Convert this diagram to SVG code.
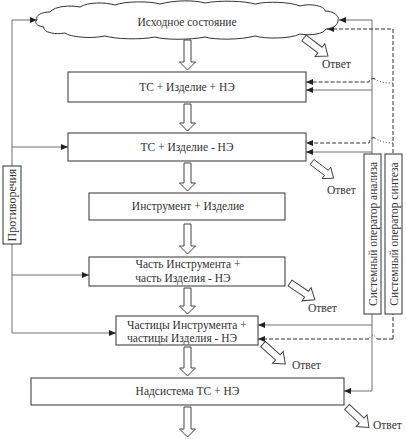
<svg xmlns="http://www.w3.org/2000/svg" width="406" height="439" viewBox="0 0 406 439" font-family="'Liberation Serif', 'Times New Roman', serif">
<style>
text{font-family:"Liberation Serif","Times New Roman",serif;font-size:11.5px;fill:#333}
.box{fill:#fff;stroke:#333;stroke-width:1}
.ln{fill:none;stroke:#707070;stroke-width:1}
.ds{fill:none;stroke:#333;stroke-width:1;stroke-dasharray:4,2}
.dt{fill:none;stroke:#555;stroke-width:1;stroke-dasharray:1,2}
.ha{fill:#fff;stroke:#444;stroke-width:1}
</style>
<defs>
<marker id="ah" markerWidth="7" markerHeight="6" refX="7" refY="3" orient="auto" markerUnits="userSpaceOnUse">
<path d="M0,0 L7,3 L0,6 Z" fill="#222"/>
</marker>
<polygon id="ans" class="ha" points="0,-3.5 20,-3.5 20,-8 30,0 20,8 20,3.5 0,3.5"/>
</defs>

<g id="connectors">
<path class="ln" d="M12,333 L12,20 L37,20" marker-end="url(#ah)"/>
<path class="ln" d="M12,147 L68,147" marker-end="url(#ah)"/>
<path class="ln" d="M12,275 L89,275" marker-end="url(#ah)"/>
<path class="ln" d="M12,333 L116,333" marker-end="url(#ah)"/>
<path class="ln" d="M372,391 L372,20 L339,20" marker-end="url(#ah)"/>
<path class="ln" d="M372,90 L306,90" marker-end="url(#ah)"/>
<path class="ln" d="M372,152 L306,152" marker-end="url(#ah)"/>
<path class="ln" d="M372,325 L258,325" marker-end="url(#ah)"/>
<path class="ln" d="M372,391 L344,391" marker-end="url(#ah)"/>
<path class="ds" d="M393,339 L393,29 L327,29" marker-end="url(#ah)"/>
<path class="dt" d="M393,83 C385,83 378,82 375,79"/>
<path class="ds" d="M375,79 Q371,77 369,82 L306,82" marker-end="url(#ah)"/>
<path class="dt" d="M393,143 C385,143 378,141 375,138"/>
<path class="ds" d="M375,138 Q371,136 369,143 L306,143" marker-end="url(#ah)"/>
<path class="ds" d="M393,339 L377,339"/>
<path class="dt" d="M377,339 Q373,332 369,339"/>
<path class="ds" d="M369,339 L258,339" marker-end="url(#ah)"/>
<g class="ha">
<polygon points="184,40 191,40 191,62 195.5,62 187.5,70 179.5,62 184,62"/>
<polygon points="184,104 191,104 191,123 195.5,123 187.5,131 179.5,123 184,123"/>
<polygon points="184,163 191,163 191,183 195.5,183 187.5,191 179.5,183 184,183"/>
<polygon points="184,224 191,224 191,246 195.5,246 187.5,254 179.5,246 184,246"/>
<polygon points="184,288 191,288 191,306 195.5,306 187.5,314 179.5,306 184,306"/>
<polygon points="184,347 191,347 191,368 195.5,368 187.5,376 179.5,368 184,368"/>
<polygon points="184,407 191,407 191,429 195.5,429 187.5,437 179.5,429 184,429"/>
</g>
<use href="#ans" transform="translate(304,38) rotate(37)"/>
<use href="#ans" transform="translate(312,162) rotate(37) scale(0.9)"/>
<use href="#ans" transform="translate(290,283) rotate(34)"/>
<use href="#ans" transform="translate(263,344) rotate(42)"/>
<use href="#ans" transform="translate(347,407) rotate(43)"/>
</g>

<g id="answers">
<text x="322" y="68">Ответ</text>
<text x="327" y="194">Ответ</text>
<text x="308" y="312">Ответ</text>
<text x="292" y="369">Ответ</text>
<text x="373" y="429">Ответ</text>
</g>

<g id="cloud">
<path class="box" d="M37,20 C35,15 42,12 50,12 C55,6 70,5 80,7 C88,2 105,2 115,5 C125,1 150,1 160,4 C175,0 195,0 205,3 C220,0 245,1 255,4 C268,1 290,2 300,6 C310,3 325,6 325,11 C333,11 340,16 338,20 C338,25 334,28 326,29 C324,34 310,36 300,34 C290,39 265,39 255,36 C240,40 215,40 205,37 C190,40 165,40 155,37 C140,40 115,39 105,36 C90,39 70,37 65,33 C55,35 42,32 44,27 C36,26 34,22 37,20 Z"/>
<text x="187" y="26" text-anchor="middle">Исходное состояние</text>
</g>

<g id="box1">
<rect class="box" x="68" y="72" width="238" height="30"/>
<text x="187" y="91" text-anchor="middle">ТС + Изделие + НЭ</text>
</g>

<g id="box2">
<rect class="box" x="68" y="133" width="238" height="28"/>
<text x="187" y="151" text-anchor="middle">ТС + Изделие - НЭ</text>
</g>

<g id="box3">
<rect class="box" x="89" y="193" width="196" height="27"/>
<text x="188" y="210" text-anchor="middle">Инструмент + Изделие</text>
</g>

<g id="box4">
<rect class="box" x="89" y="257" width="196" height="29"/>
<text x="188" y="268" text-anchor="middle">Часть Инструмента +</text>
<text x="183" y="282" text-anchor="middle">часть Изделия - НЭ</text>
</g>

<g id="box5">
<rect class="box" x="116" y="316" width="142" height="29"/>
<text x="127" y="329">Частицы Инструмента +</text>
<text x="127" y="342">частицы Изделия - НЭ</text>
</g>

<g id="box6">
<rect class="box" x="31" y="378" width="313" height="27"/>
<text x="187.5" y="395" text-anchor="middle">Надсистема ТС + НЭ</text>
</g>

<g id="contradictions">
<rect class="box" x="3" y="166" width="18" height="78"/>
<text transform="translate(16,205) rotate(-90)" text-anchor="middle" style="font-size:12px">Противоречия</text>
</g>

<g id="analysis">
<rect class="box" x="364" y="154" width="17" height="160"/>
<text transform="translate(376.5,234) rotate(-90)" text-anchor="middle">Системный оператор анализа</text>
</g>

<g id="synthesis">
<rect class="box" x="385" y="154" width="17" height="160"/>
<text transform="translate(397.5,234) rotate(-90)" text-anchor="middle">Системный оператор синтеза</text>
</g>
</svg>
